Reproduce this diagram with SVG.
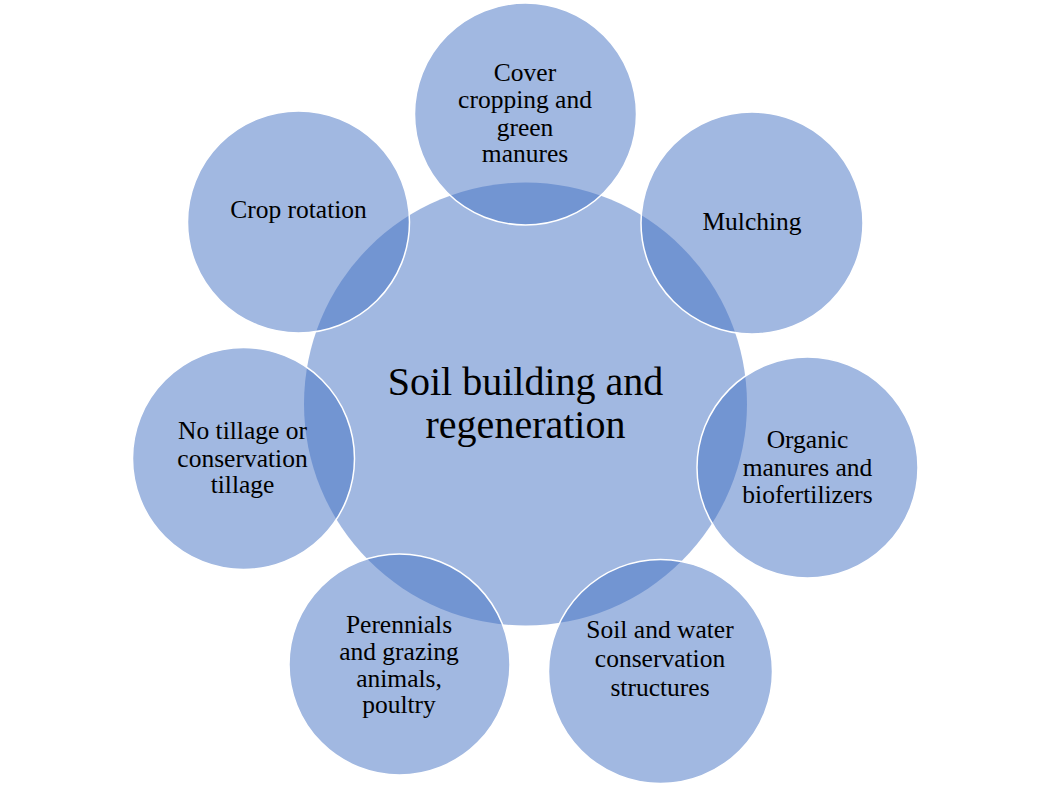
<svg xmlns="http://www.w3.org/2000/svg" width="1051" height="788" viewBox="0 0 1051 788">
<style>
.c{fill:#4472C4;fill-opacity:0.5}
.o{fill:#4472C4;fill-opacity:0.5;stroke:#ffffff;stroke-width:1.5}
text{font-family:"Liberation Serif","Times New Roman",serif;fill:#000;text-anchor:middle}
.s{font-size:25.5px}
.m{font-size:40px}
</style>
<rect width="1051" height="788" fill="#ffffff"/>
<g id="center">
<circle class="c" cx="525.5" cy="404" r="221.5"/>
<text class="m"><tspan x="525.5" y="395">Soil building and</tspan><tspan x="525.5" y="438">regeneration</tspan></text>
</g>
<g id="cover">
<circle class="o" cx="525.5" cy="114" r="111"/>
<text class="s"><tspan x="525" y="81">Cover</tspan><tspan x="525" y="108">cropping and</tspan><tspan x="525" y="136">green</tspan><tspan x="525" y="162">manures</tspan></text>
</g>
<g id="mulching">
<circle class="o" cx="752" cy="223" r="111"/>
<text class="s" x="752" y="230">Mulching</text>
</g>
<g id="organic">
<circle class="o" cx="807.5" cy="467.5" r="110.5"/>
<text class="s"><tspan x="807.5" y="448">Organic</tspan><tspan x="807.5" y="476">manures and</tspan><tspan x="807.5" y="503">biofertilizers</tspan></text>
</g>
<g id="soilwater">
<circle class="o" cx="660.5" cy="671.5" r="112"/>
<text class="s"><tspan x="660" y="638">Soil and water</tspan><tspan x="660" y="667">conservation</tspan><tspan x="660" y="696">structures</tspan></text>
</g>
<g id="perennials">
<circle class="o" cx="399.5" cy="664.5" r="110.5"/>
<text class="s"><tspan x="399" y="633">Perennials</tspan><tspan x="399" y="660">and grazing</tspan><tspan x="399" y="687">animals,</tspan><tspan x="399" y="713">poultry</tspan></text>
</g>
<g id="notillage">
<circle class="o" cx="243.5" cy="458.5" r="111"/>
<text class="s"><tspan x="242.5" y="439">No tillage or</tspan><tspan x="242.5" y="467">conservation</tspan><tspan x="242.5" y="493">tillage</tspan></text>
</g>
<g id="croprotation">
<circle class="o" cx="298.5" cy="222" r="111"/>
<text class="s" x="298.5" y="218">Crop rotation</text>
</g>
<g id="connectors"></g>
</svg>
